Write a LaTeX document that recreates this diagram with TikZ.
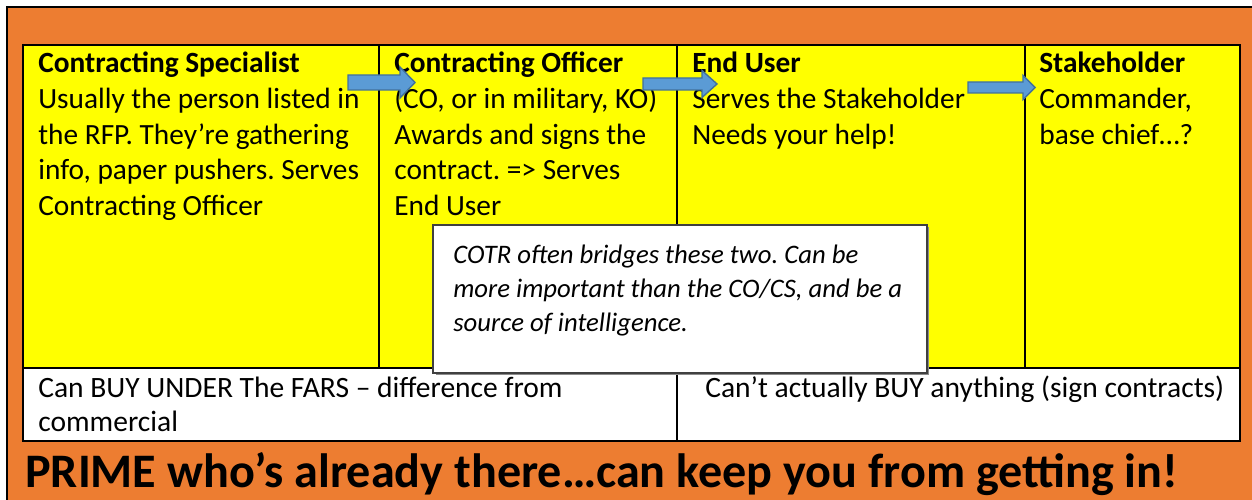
\documentclass[tikz,border=0pt]{standalone}
\usepackage{fontspec}
\setmainfont{Carlito}
\usetikzlibrary{calc}
\frenchspacing
\definecolor{frameorange}{HTML}{ED7D31}
\definecolor{cellyellow}{HTML}{FFFF00}
\definecolor{arrowblue}{HTML}{5B9BD5}
\definecolor{arrowedge}{HTML}{41719C}
% block arrow: (tail x : head base x : tip x)(centre y : shaft half : head half)
\def\blockarrow(#1:#2:#3)(#4:#5:#6){\draw[fill=arrowblue, draw=arrowedge, line width=0.8pt, line join=miter] (#1,#4-#5) -- (#2,#4-#5) -- (#2,#4-#6) -- (#3,#4) -- (#2,#4+#6) -- (#2,#4+#5) -- (#1,#4+#5) -- cycle;}

\begin{document}
\begin{tikzpicture}[x=0.02cm, y=-0.02cm,
	celltext/.style={anchor=base west, inner sep=0pt, font=\fontsize{16.7}{20.3}\selectfont},
	notetext/.style={anchor=base west, inner sep=0pt, font=\fontsize{15.2}{19.6}\selectfont\itshape},
	rowtext/.style={anchor=base west, inner sep=0pt, font=\fontsize{16.8}{19.9}\selectfont}]
		%%%%% START %%%%%
		\useasboundingbox (0, 0) rectangle (1252, 500);
		\fill[white] (0, 0) rectangle (1252, 500);
		
		% orange frame, only its left and top border show
		\fill[frameorange] (7, 7) rectangle (1252, 500);
		\draw[line width=1.4pt] (7, 500) -- (7, 7) -- (1252, 7);
		
		% table: yellow row of roles, white row below
		\draw[fill=cellyellow, line width=1.1pt] (23, 45) rectangle (1240, 368);
		\draw[fill=white, line width=1.1pt] (23, 368) rectangle (1240, 441);
		\draw[line width=1.1pt] (379, 45) -- (379, 368);
		\draw[line width=1.1pt] (677, 45) -- (677, 441);
		\draw[line width=1.1pt] (1025, 45) -- (1025, 368);
		
		\node[celltext] (spec) at (38, 73) {\parbox[t]{12cm}{\textbf{Contracting Specialist}\\Usually the person listed in\\the RFP. They’re gathering\\info, paper pushers. Serves\\Contracting Officer}};
		\node[celltext] (officer) at (394, 73) {\parbox[t]{12cm}{\textbf{Contracting Officer}\\(CO, or in military, KO)\\Awards and signs the\\contract. => Serves\\End User}};
		\node[celltext] (user) at (692, 73) {\parbox[t]{12cm}{\textbf{End User}\\Serves the Stakeholder\\Needs your help!}};
		\node[celltext] (holder) at (1039, 73) {\parbox[t]{12cm}{\textbf{Stakeholder}\\Commander,\\base chief…?}};
		
		\blockarrow(348:400:415)(82.5:7.5:15.5)
		\blockarrow(643:702:717)(84:6:13.5)
		\blockarrow(968:1023:1035)(87.5:5.5:12)
		
		% COTR note over the two middle cells
		\fill[black!45] (435.5, 227.5) rectangle (929, 375);
		\draw[fill=white, draw=black!75, line width=0.7pt] (433, 225) rectangle (927, 373);
		\node[notetext] (cotr) at (453, 263) {\parbox[t]{12cm}{COTR often bridges these two. Can be\\more important than the CO/CS, and be a\\source of intelligence.}};
		
		\node[rowtext] (fars) at (38, 397) {\parbox[t]{12cm}{Can BUY UNDER The FARS – difference from\\commercial}};
		\node[rowtext] (nobuy) at (705, 397) {Can’t actually BUY anything (sign contracts)};
		
		\node[anchor=base west, inner sep=0pt, font=\fontsize{27.4}{34}\selectfont\bfseries] (prime) at (25, 487) {PRIME who’s already there…can keep you from getting in!};
		%%%%% END %%%%%
	\end{tikzpicture}
\end{document}
